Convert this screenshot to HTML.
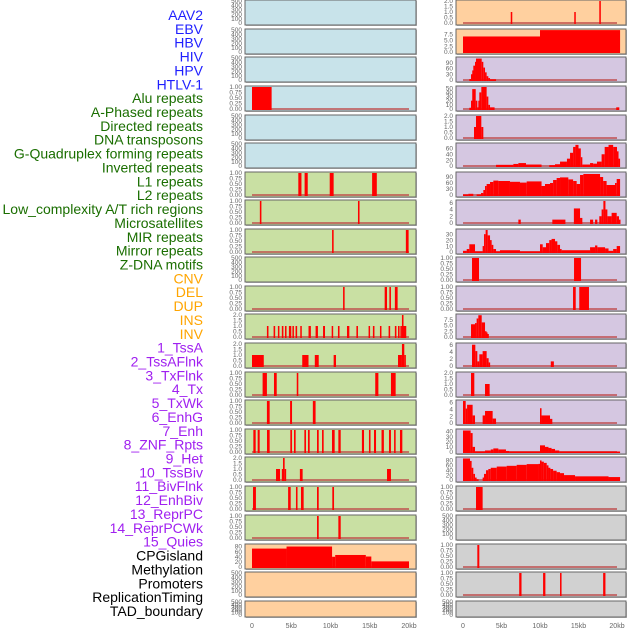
<!DOCTYPE html>
<html><head><meta charset="utf-8"><style>
body{margin:0;background:#fff;width:630px;height:630px;overflow:hidden;font-family:"Liberation Sans",sans-serif}
svg{position:absolute;left:0;top:0}
</style></head><body>
<svg id="chart" width="630" height="630"></svg>
<script>
const trackLabels=["AAV2","EBV","HBV","HIV","HPV","HTLV-1","Alu repeats","A-Phased repeats","Directed repeats","DNA transposons","G-Quadruplex forming repeats","Inverted repeats","L1 repeats","L2 repeats","Low_complexity A/T rich regions","Microsatellites","MIR repeats","Mirror repeats","Z-DNA motifs","CNV","DEL","DUP","INS","INV","1_TssA","2_TssAFlnk","3_TxFlnk","4_Tx","5_TxWk","6_EnhG","7_Enh","8_ZNF_Rpts","9_Het","10_TssBiv","11_BivFlnk","12_EnhBiv","13_ReprPC","14_ReprPCWk","15_Quies","CPGisland","Methylation","Promoters","ReplicationTiming","TAD_boundary"];
const labelGroups=[6,13,5,15,5];
const groupColors=["#1f1fff","#1a6e00","#ffa500","#a020f0","#000000"];
const xTicks=[0,5,10,15,20];
const xTickLabels=["0","5kb","10kb","15kb","20kb"];
const panelTops=[0,29,57,86,115,143,172,200,229,257,286,314,343,372,400,429,457,486,515,544,572,601];
const leftColors=["#c8e3ea","#c8e3ea","#c8e3ea","#c8e3ea","#c8e3ea","#c8e3ea","#c9e0a3","#c9e0a3","#c9e0a3","#c9e0a3","#c9e0a3","#c9e0a3","#c9e0a3","#c9e0a3","#c9e0a3","#c9e0a3","#c9e0a3","#c9e0a3","#c9e0a3","#ffd09f","#ffd09f","#ffd09f"];
const rightColors=["#ffd09f","#ffd09f","#d5c7e1","#d5c7e1","#d5c7e1","#d5c7e1","#d5c7e1","#d5c7e1","#d5c7e1","#d5c7e1","#d5c7e1","#d5c7e1","#d5c7e1","#d5c7e1","#d5c7e1","#d5c7e1","#d5c7e1","#d1d1d1","#d1d1d1","#d1d1d1","#d1d1d1","#d1d1d1"];
// tick sets
const T500=[0,100,200,300,400,500];
const T1=["0.00","0.25","0.50","0.75","1.00"];
const T2=["0.0","0.5","1.0","1.5","2.0"];
// left panel data [startKb,endKb,value]
const L3=[[0,2.5,1]];
const L6=[[5.9,6.3,1],[6.7,7.1,1],[9.9,10.4,1],[15.3,15.9,1]];
const L7=[[1.0,1.2,1],[13.5,13.7,1]];
const L8=[[10.2,10.4,1],[19.6,19.95,1]];
const L10=[[11.6,11.8,1],[16.9,17.2,1],[17.5,17.7,1],[18.2,18.55,1]];
const L11=[[1.9,2.1,1],[2.75,2.95,1],[3.3,3.45,1],[3.8,4.0,1],[4.2,4.4,1],[4.7,5.0,1],[5.15,5.3,1],[5.55,5.75,1],[6.15,6.3,1],[7.2,7.5,1],[8.1,8.4,1],[9.05,9.3,1],[10.15,10.3,1],[10.95,11.15,1],[12.1,12.4,1],[13.3,13.5,1],[14.85,15.0,1],[15.4,15.6,1],[16.3,16.45,1],[17.4,17.6,1],[18.2,18.4,1],[18.6,18.8,1],[18.9,19.1,1],[19.1,19.3,2],[19.3,19.65,1]];
const L12=[[0,1.5,1],[6.4,7.2,1],[8.0,8.5,1],[10.4,10.7,1],[18.6,19.1,1],[19.1,19.4,2],[19.4,19.6,1]];
const L13=[[1.35,1.9,1],[2.8,3.15,1],[5.7,5.9,1],[15.7,16.1,1],[17.7,18.3,1]];
const L14=[[1.9,2.25,1],[4.85,5.1,1],[7.75,8.1,1]];
const L15=[[0.17,0.47,1],[0.72,0.98,1],[1.91,2.25,1],[4.88,5.1,1],[5.35,5.56,1],[6.67,6.88,1],[7.13,7.35,1],[8.28,8.5,1],[8.92,9.13,1],[10.19,10.53,1],[11.0,11.3,1],[14.0,14.27,1],[14.9,15.1,1],[15.54,15.8,1],[16.5,16.8,1],[17.45,17.7,1],[18.1,18.3,1],[18.85,19.15,1]];
const L16=[[3.06,3.57,1],[3.8,3.95,1],[3.95,4.16,2],[4.16,4.33,1],[6.1,6.45,1],[17.2,17.7,1]];
const L17=[[0.13,0.5,1],[4.6,4.93,1],[5.6,5.8,1],[6.24,6.58,1],[8.28,8.5,1],[10.23,10.45,1]];
const L18=[[8.28,8.5,1],[11.0,11.3,1]];
const L19=[[0,4.4,72],[4.4,10.2,80],[10.2,10.6,40],[10.6,14.5,47],[14.5,15.2,41],[15.2,20.0,22]];
// right panel data
const R0=[[6.2,6.4,1],[14.45,14.6,1],[17.7,17.9,2]];
const R1=[[0,10.0,6.6],[10.0,20.4,9.3]];
const R2=[[0.82,1.04,5],[1.04,1.2,30],[1.2,1.34,50],[1.34,1.56,75],[1.56,1.69,95],[1.69,2.43,112],[2.43,2.64,95],[2.64,2.86,65],[2.86,3.07,40],[3.07,3.29,20],[3.29,3.51,10],[3.51,4.29,4]];
const R3=[[0.82,1.04,3],[1.04,1.2,20],[1.2,1.65,48],[1.65,1.86,20],[1.86,1.99,4],[1.99,2.12,20],[2.12,2.38,40],[2.38,3.07,53],[3.07,3.29,30],[3.29,3.51,10],[3.51,4.1,4],[19.9,20.3,4]];
const R4=[[1.43,1.69,1],[1.69,2.38,2],[2.38,2.64,1]];
const R5=[[4.29,6.54,4],[6.54,7.19,7],[7.19,8.18,10],[8.18,10.2,5],[11.2,11.95,3],[11.95,12.6,6],[12.6,13.5,15],[13.5,13.9,25],[13.9,14.3,45],[14.3,14.6,65],[14.6,15.0,72],[15.0,15.3,60],[15.3,15.5,30],[15.5,16.5,5],[16.5,16.9,10],[16.9,17.4,8],[17.4,18.0,15],[18.0,18.4,40],[18.4,18.9,65],[18.9,19.5,72],[19.5,20.0,65],[20.0,20.2,50],[20.2,20.4,25]];
const R6=[[0,0.69,3],[0.69,1.34,6],[1.77,2.34,3],[2.34,2.64,10],[2.64,2.86,25],[2.86,3.07,45],[3.07,3.51,55],[3.51,3.94,65],[3.94,4.59,72],[4.59,6.1,70],[6.1,7.4,66],[7.4,8.27,62],[8.27,10.2,68],[10.2,10.65,45],[10.65,11.3,55],[11.3,11.7,60],[11.7,12.16,75],[12.16,12.6,85],[12.6,13.68,88],[13.68,14.3,78],[14.3,14.76,70],[14.76,15.2,55],[15.2,15.63,100],[15.63,17.8,105],[17.8,18.2,90],[18.2,18.65,70],[18.65,19.74,50],[19.74,19.96,60],[19.96,20.4,80]];
const R7=[[7.19,7.5,1],[11.6,13.3,1],[14.4,15.2,4.3],[15.2,15.5,1.5],[16.5,16.9,1],[17.15,17.45,1],[17.7,18.0,2],[18.0,18.23,4],[18.23,18.5,6.5],[18.5,18.75,4],[18.75,19.3,2],[19.3,19.96,3],[19.96,20.26,2],[20.26,20.4,1]];
const R8=[[0,0.48,2],[0.48,0.82,5],[0.82,1.56,13],[1.56,2.55,1],[2.55,2.73,10],[2.73,2.94,30],[2.94,3.2,37],[3.2,3.51,28],[3.51,3.72,20],[3.72,3.94,12],[3.94,4.29,5],[4.29,4.8,1],[4.8,7.4,3],[7.4,10.0,1],[10.0,10.35,13],[10.35,10.78,8],[10.78,11.2,15],[11.2,11.5,20],[11.5,11.95,22],[11.95,12.25,18],[12.25,12.6,12],[12.6,12.81,5],[12.81,16.5,3],[16.5,17.15,8],[17.15,17.45,11],[17.45,18.45,8],[18.45,18.9,6],[18.9,19.5,2],[19.5,19.96,5],[19.96,20.4,10]];
const R9=[[1.17,2.08,1],[14.42,15.33,1]];
const R10=[[14.29,14.64,1],[15.1,16.36,1]];
const R11=[[1.04,1.56,5.5],[1.56,1.77,6],[1.77,1.99,8],[1.99,2.43,9.4],[2.43,2.86,6.3],[2.86,2.99,2.5],[2.99,3.16,2],[3.16,3.33,1.3]];
const R12=[[1.17,1.6,6],[1.6,1.86,4.2],[1.86,2.12,1.3],[2.12,2.55,3.3],[2.55,3.07,4.2],[3.07,3.33,2.2],[3.33,3.46,1],[11.4,11.8,1.3]];
const R13=[[1.04,1.47,2],[2.86,3.46,1]];
const R14=[[0,0.35,6.4],[0.35,0.53,4.2],[0.53,1.25,5.3],[1.25,1.56,2.2],[2.55,2.86,2.2],[2.86,3.85,3.5],[3.85,4.29,1.3],[10.0,10.2,4.3],[10.2,11.3,2.2],[11.3,11.6,1.2]];
const R15=[[0,0.99,42],[0.99,1.25,37],[1.25,1.56,10],[1.56,2.86,1],[2.86,3.6,3],[3.6,3.94,5],[3.94,4.59,7],[4.59,5.58,5],[5.58,6.0,2],[6.0,10.0,1],[10.0,10.65,13],[10.65,11.1,10],[11.1,11.5,8],[11.5,11.95,6],[11.95,12.5,3],[12.5,20.4,1]];
const R16=[[0,0.91,88],[0.91,1.12,78],[1.12,1.34,50],[1.34,1.56,25],[1.56,1.77,10],[1.77,2.03,3],[2.55,2.73,10],[2.73,2.99,25],[2.99,3.29,40],[3.29,3.6,45],[3.6,4.38,50],[4.38,5.67,55],[5.67,6.97,58],[6.97,8.27,62],[8.27,9.8,65],[9.8,10.0,66],[10.0,10.2,80],[10.2,10.5,75],[10.5,10.87,70],[10.87,11.1,60],[11.1,11.35,50],[11.35,11.7,45],[11.7,12.16,38],[12.16,12.6,32],[12.6,13.12,28],[13.12,14.55,20],[14.55,18.9,15],[18.9,20.4,12]];
const R17=[[1.69,2.55,1]];
const R19=[[1.86,2.12,1]];
const R20=[[7.3,7.6,1],[10.4,10.7,1],[12.6,12.8,1],[18.2,18.5,1]];
// panel configs: data, ymax, ticks
const leftPanels=[[null,500,T500],[null,500,T500],[null,500,T500],[L3,1,T1],[null,500,T500],[null,500,T500],[L6,1,T1],[L7,1,T1],[L8,1,T1],[null,500,T500],[L10,1,T1],[L11,2,T2],[L12,2,T2],[L13,1,T1],[L14,1,T1],[L15,1,T1],[L16,2,T2],[L17,1,T1],[L18,1,T1],[L19,86,["0","20","40","60","80"]],[null,500,T500],[null,500,T500]];
const rightPanels=[[R0,2,T2],[R1,9.35,["0.0","2.5","5.0","7.5"]],[R2,115,["0","30","60","90"]],[R3,53,["0","10","20","30","40","50"]],[R4,2,T2],[R5,75,["0","20","40","60"]],[R6,110,["0","30","60","90"]],[R7,6.5,["0","2","4","6"]],[R8,37,["0","10","20","30"]],[R9,1,T1],[R10,1,T1],[R11,9.5,["0.0","2.5","5.0","7.5"]],[R12,6.2,["0","2","4","6"]],[R13,2,T2],[R14,6.4,["0","2","4","6"]],[R15,43,["0","10","20","30","40"]],[R16,90,["0","20","40","60","80"]],[R17,1,T1],[null,500,T500],[R19,1,T1],[R20,1,T1],[null,500,T500]];

const NS="http://www.w3.org/2000/svg";
const svg=document.getElementById('chart');
function mk(tag,attrs,parent){const e=document.createElementNS(NS,tag);for(const k in attrs)e.setAttribute(k,attrs[k]);(parent||svg).appendChild(e);return e;}

// labels
let li=0;
labelGroups.forEach((n,g)=>{for(let i=0;i<n;i++){const t=mk('text',{x:203,y:20+li*13.86,'text-anchor':'end','font-size':'14',fill:groupColors[g]});t.textContent=trackLabels[li];


li++;}});

function drawColumn(panels,colors,px0,pw,x0,scale,side){
  const xs=kb=>x0+kb*scale;
  panels.forEach((p,i)=>{
    const top=panelTops[i];const h=(i===panelTops.length-1)?16:25;
    const g=mk('g',{});
    
    
    mk('rect',{x:px0+1,y:top+1,width:pw,height:h,fill:'#bbb'},g);
    mk('rect',{x:px0,y:top,width:pw,height:h,fill:colors[i],stroke:'#666','stroke-width':1},g);
    const y0=top+h-2, y1=top+1;
    const ys=v=>y0-(v/p[1])*(y0-y1);
    // ticks
    const ticks=p[2];
    ticks.forEach(tl=>{const v=parseFloat(tl);const t=mk('text',{x:px0-3,y:ys(v)+2.2,'text-anchor':'end','font-size':'6.5',fill:'#666'},g);t.textContent=tl;
      
      });
    if(p[0]){
      mk('line',{x1:xs(0),x2:xs(20),y1:y0,y2:y0,stroke:'rgba(190,70,70,0.7)','stroke-width':2},g);
      p[0].forEach(s=>{const xa=xs(s[0]),xb=xs(s[1]);const yt=ys(s[2]);
        const r=mk('rect',{x:xa,y:yt,width:Math.max(1.5,xb-xa),height:y0-yt+1,fill:'#ff0000'},g);
        
        });
    }
  });
  xTicks.forEach((k,j)=>{const t=mk('text',{x:xs(k),y:628,'text-anchor':'middle','font-size':'7',fill:'#666'});t.textContent=xTickLabels[j];
    
    });
}
drawColumn(leftPanels,leftColors,245,171,252,7.85,'left');
drawColumn(rightPanels,rightColors,456,170,463,7.7,'right');
</script>
</body></html>
